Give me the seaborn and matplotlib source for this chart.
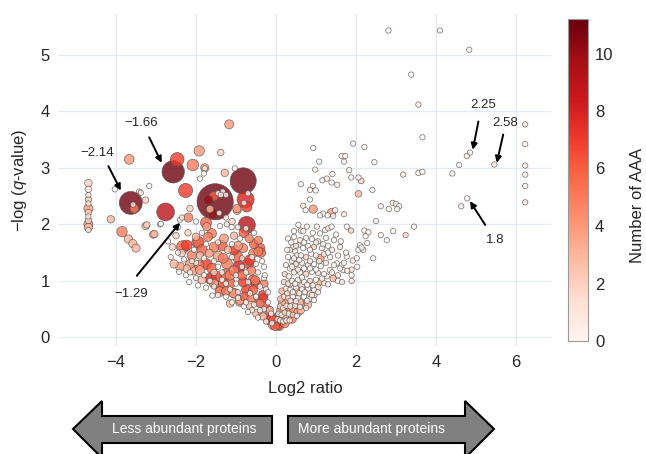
import matplotlib
matplotlib.use("Agg")
import matplotlib.pyplot as plt
from matplotlib.patches import Polygon
from matplotlib.colors import Normalize
from matplotlib.cm import ScalarMappable
import seaborn as sns
import pandas as pd

# (log2 ratio, -log q, number of AAA, peptide count)
left_column = [
    (-4.69, 2.73, 2, 2), (-4.69, 2.62, 1, 1.5), (-4.69, 2.52, 1, 1), (-4.69, 2.44, 2, 1.5),
    (-4.69, 2.37, 1, 1), (-4.69, 2.28, 4, 3), (-4.69, 2.21, 2, 1.5), (-4.69, 2.14, 1, 1),
    (-4.69, 2.07, 2, 1.5), (-4.69, 2.00, 4, 3), (-4.69, 1.95, 3, 2.5), (-4.69, 1.90, 1, 1),
]

left_big = [
    (-3.63, 2.38, 11, 20), (-2.57, 2.93, 11, 19), (-1.52, 2.40, 11, 50), (-0.82, 2.77, 11, 26),
    (-2.76, 2.22, 9, 12), (-0.73, 1.99, 9, 11), (-0.76, 2.44, 8, 11), (-2.26, 2.60, 7, 7.5),
    (-2.47, 3.15, 7, 7), (-2.08, 3.05, 5, 5), (-1.92, 3.30, 4, 4), (-1.78, 3.00, 4, 2.5),
    (-1.17, 3.77, 4, 3), (-3.67, 3.15, 4, 3.5), (-1.55, 2.50, 6, 3.5), (-3.54, 2.28, 5, 3),
    (-3.85, 1.87, 5, 4), (-3.69, 1.74, 3, 2.5), (-3.58, 1.66, 3, 2.5), (-3.50, 1.58, 3, 2.5),
    (-4.13, 2.09, 3, 2), (-3.26, 1.97, 3, 2), (-3.07, 1.82, 3, 2), (-1.28, 2.91, 3, 2),
    (-1.38, 3.27, 2, 1.5), (-2.33, 1.60, 6, 6), (-1.96, 1.68, 5, 5), (-2.19, 2.12, 5, 3),
    (-1.75, 2.03, 6, 4.5), (-1.61, 1.84, 5, 3.5), (-0.97, 2.25, 4, 2.5), (-0.40, 1.58, 6, 3.5),
]

left_scatter = [
    (-4.03, 2.62, 0, 1), (-3.42, 2.58, 1, 1), (-3.17, 2.68, 0, 1), (-3.26, 2.43, 2, 1.5),
    (-3.23, 1.99, 2, 1.5), (-3.04, 1.83, 3, 2), (-2.90, 2.00, 0, 1), (-3.38, 2.56, 1, 1),
    (-2.88, 2.01, 0, 1), (-2.59, 1.60, 2, 1.5), (-2.63, 1.42, 1, 1), (-2.42, 1.16, 0, 1),
    (-2.17, 0.98, 0, 1), (-1.59, 0.74, 0, 1), (-1.78, 2.99, 1, 1), (-1.80, 2.90, 0, 1),
    (-1.03, 2.99, 0, 1), (-1.90, 2.81, 0, 1), (-1.33, 2.58, 0, 1), (-1.25, 2.52, 0, 1),
    (-2.15, 2.28, 2, 1.5), (-1.69, 2.43, 10, 3), (-1.57, 2.19, 10, 3), (-0.98, 2.28, 4, 2.5),
    (-0.73, 2.31, 7, 4), (-1.40, 1.97, 0, 1), (-1.23, 2.00, 1, 1), (-1.11, 1.95, 0, 1),
    (-1.45, 2.55, 0, 1), (-1.38, 2.52, 0, 1), (-3.57, 2.35, 1, 1), (-0.80, 2.38, 0, 1),
    (-0.75, 1.93, 0, 1), (-0.70, 2.55, 0, 1), (-2.40, 2.08, 0, 1), (-2.35, 2.12, 1, 1),
    (-2.00, 2.05, 0, 1), (-1.65, 2.27, 3, 2), (-1.42, 2.20, 0, 1), (-1.25, 2.12, 1, 1),
    (-1.10, 2.05, 2, 1.5), (-0.95, 1.95, 0, 1), (-1.05, 1.80, 3, 2), (-1.30, 1.75, 4, 3),
    (-1.55, 1.60, 5, 3.5), (-1.20, 1.55, 3, 2), (-2.50, 1.80, 2, 1.5), (-2.70, 1.70, 0, 1),
    (-2.20, 1.85, 2, 1.5), (-2.45, 1.95, 0, 1), (-1.85, 1.85, 0, 1),
]

left_wedge = [
    (-2.40, 1.25, 4, 3), (-2.07, 1.19, 4, 3.5), (-1.93, 1.28, 5, 3.5), (-1.63, 1.04, 8, 5),
    (-1.38, 0.87, 5, 4), (-1.15, 0.96, 6, 4), (-0.93, 1.25, 8, 5.5), (-0.97, 1.43, 6, 4.5),
    (-1.23, 1.31, 5, 4.5), (-1.44, 1.43, 4, 4), (-1.67, 1.49, 4, 2.5), (-0.69, 1.31, 7, 4),
    (-0.57, 1.49, 5, 3), (-0.44, 1.72, 5, 2.5), (-0.67, 1.75, 5, 2.5), (-0.82, 1.58, 5, 3),
    (-0.38, 1.50, 6, 3.5), (-0.57, 1.01, 6, 4), (-0.73, 0.84, 7, 4), (-1.03, 0.78, 6, 3.5),
    (-0.32, 0.75, 7, 3.5), (-0.44, 0.63, 6, 3), (-0.15, 0.48, 3, 2), (-0.19, 0.31, 5, 3),
    (0.02, 0.25, 6, 3), (-0.08, 0.22, 5, 3), (0.14, 0.28, 6, 3), (-0.32, 0.37, 3, 2),
    (-0.48, 0.42, 3, 2.5), (-0.65, 0.57, 3, 2.5), (-0.90, 0.63, 4, 3), (-1.15, 0.60, 3, 2),
    (-1.90, 1.19, 4, 3), (-2.23, 1.22, 3, 2), (-2.36, 1.49, 2, 2), (-2.00, 1.78, 3, 2),
    (-1.73, 1.96, 4, 2.5), (-1.94, 1.69, 6, 4.5), (-2.23, 1.63, 7, 4), (-1.32, 1.40, 5, 3.5),
    (-0.65, 1.37, 7, 4), (-0.44, 1.52, 5, 3), (-1.15, 1.10, 5, 3.5), (-1.32, 0.96, 6, 4),
    (-0.82, 0.98, 7, 3.5), (-0.57, 0.84, 6, 3), (-0.32, 0.69, 7, 3), (-0.40, 0.60, 5, 2.5),
    (-0.19, 0.48, 6, 3), (-0.07, 0.31, 6, 2.5), (-0.52, 1.01, 5, 3), (-1.07, 0.78, 4, 3),
    (-1.40, 0.81, 5, 3.5), (-0.90, 0.66, 4, 3),
    (-2.10, 1.45, 5, 3.5), (-1.85, 1.55, 6, 4), (-1.60, 1.22, 6, 4), (-1.75, 1.30, 7, 4.5),
    (-1.48, 1.08, 7, 4), (-1.25, 1.12, 6, 4), (-1.05, 1.18, 5, 3.5), (-0.85, 1.10, 6, 3.5),
    (-0.62, 1.18, 5, 3), (-0.50, 0.95, 7, 3.5), (-0.78, 0.72, 6, 3), (-0.62, 0.68, 5, 3),
    (-0.28, 0.55, 6, 3), (-0.10, 0.35, 7, 3), (0.08, 0.20, 6, 3), (-0.35, 0.45, 4, 2.5),
    (-1.25, 0.82, 5, 3), (-1.55, 0.95, 4, 3), (-1.85, 1.02, 3, 2.5), (-2.15, 1.30, 4, 3),
    (-1.70, 1.78, 5, 3), (-1.35, 1.62, 6, 4), (-1.05, 1.55, 7, 4), (-0.80, 1.85, 6, 3.5),
    (-0.55, 1.65, 6, 3), (-0.30, 0.95, 5, 2.5), (-0.95, 1.62, 4, 3), (-2.55, 1.30, 3, 2.5),
    (-2.00, 1.32, 1, 1), (-1.90, 1.45, 3, 2),
    (-2.30, 1.38, 0, 1), (-2.10, 1.35, 1, 1), (-1.80, 1.40, 0, 1), (-1.55, 1.35, 1, 1),
    (-1.10, 1.42, 0, 1), (-0.85, 1.40, 2, 1), (-0.50, 1.30, 0, 1), (-0.30, 1.25, 0, 1),
    (-2.25, 1.10, 0, 1), (-2.00, 1.05, 1, 1), (-1.80, 1.10, 0, 1), (-1.55, 1.15, 2, 1.5),
    (-1.35, 1.15, 0, 1), (-1.00, 1.10, 1, 1), (-0.75, 1.15, 0, 1), (-0.45, 1.15, 1, 1),
    (-0.30, 1.05, 0, 1), (-1.95, 0.92, 0, 1), (-1.75, 0.88, 0, 1), (-1.55, 0.90, 1, 1),
    (-1.25, 0.95, 0, 1), (-1.00, 0.95, 0, 1), (-0.70, 0.98, 1, 1), (-0.40, 0.90, 0, 1),
    (-0.25, 0.85, 0, 1), (-1.45, 0.75, 0, 1), (-1.25, 0.72, 0, 1), (-0.95, 0.80, 1, 1),
    (-0.65, 0.78, 0, 1), (-0.50, 0.72, 0, 1), (-0.20, 0.62, 0, 1), (-1.10, 0.62, 0, 1),
    (-0.80, 0.55, 0, 1), (-0.60, 0.48, 1, 1), (-0.30, 0.50, 0, 1), (-0.12, 0.42, 0, 1),
    (-0.70, 0.45, 0, 1), (-0.45, 0.35, 0, 1), (-0.25, 0.28, 1, 1), (-0.10, 0.25, 0, 1),
    (-2.45, 1.50, 0, 1), (-2.05, 1.55, 0, 1), (-1.75, 1.65, 0, 1), (-1.45, 1.68, 1, 1),
    (-1.10, 1.65, 0, 1), (-0.90, 1.75, 0, 1), (-0.55, 1.85, 0, 1), (-0.35, 1.35, 0, 1),
    (-0.28, 1.10, 0, 1), (-0.20, 0.80, 0, 1),
    (-1.65, 1.00, 0, 1), (-1.35, 1.02, 0, 1), (-1.15, 0.85, 0, 1), (-0.95, 0.70, 0, 1),
    (-0.75, 0.62, 0, 1), (-0.55, 0.58, 0, 1), (-0.40, 0.48, 0, 1), (-0.85, 1.25, 0, 1),
    (-0.60, 1.42, 0, 1), (-1.45, 1.25, 0, 1), (-2.15, 1.15, 0, 1),
]

right_sparse = [
    (2.81, 5.43, 0, 1), (4.10, 5.43, 0, 1), (4.83, 5.09, 0, 1), (3.38, 4.65, 0, 1),
    (3.56, 4.12, 1, 1), (3.66, 3.54, 0, 1), (2.21, 3.37, 0, 1), (2.46, 3.10, 0, 1),
    (3.18, 2.88, 1, 1), (3.56, 2.91, 0, 1), (3.66, 2.93, 0, 1), (2.41, 2.61, 0, 1),
    (2.62, 2.32, 0, 1), (2.82, 2.27, 0, 1), (2.92, 2.38, 1, 1), (3.00, 2.36, 0, 1),
    (3.08, 2.32, 0, 1), (3.03, 2.27, 0, 1), (2.50, 2.06, 0, 1), (3.45, 1.96, 0, 1),
    (2.21, 1.89, 0, 1), (2.31, 1.86, 0, 1), (2.24, 1.79, 0, 1), (2.62, 1.81, 0, 1),
    (2.77, 1.72, 0, 1), (2.93, 1.88, 0, 1), (3.24, 1.81, 2, 1), (2.28, 1.67, 0, 1),
    (2.18, 1.55, 1, 1), (2.43, 1.40, 0, 1), (4.85, 3.27, 0, 1), (4.77, 3.21, 1, 1),
    (4.58, 3.05, 0, 1), (4.41, 2.90, 0, 1), (5.46, 3.06, 1, 1), (4.78, 2.46, 0, 1),
    (4.63, 2.32, 0, 1), (6.23, 3.77, 1, 1), (6.23, 3.42, 0, 1), (6.23, 3.04, 1, 1),
    (6.23, 2.88, 0, 1), (6.23, 2.68, 0, 1), (6.23, 2.39, 1, 1),
    (0.93, 3.35, 0, 1), (1.08, 3.11, 0, 1), (0.98, 2.97, 0, 1), (1.93, 3.43, 0, 1),
    (1.64, 3.21, 0, 1), (1.73, 3.21, 0, 1), (1.70, 3.11, 0, 1), (1.16, 2.78, 0, 1),
    (1.27, 2.81, 1, 1), (1.41, 2.89, 0, 1), (1.39, 2.74, 0, 1), (1.53, 2.70, 1, 1),
    (1.83, 2.96, 0, 1), (1.88, 2.83, 0, 1), (2.06, 2.83, 0, 1), (2.13, 2.77, 2, 1.2),
    (0.62, 2.71, 0, 1), (0.92, 2.68, 0, 1), (0.85, 2.61, 0, 1), (0.99, 2.60, 0, 1),
    (2.06, 2.54, 3, 1.5), (0.85, 2.44, 0, 1), (0.68, 2.33, 1, 1), (0.74, 2.25, 0, 1),
    (0.93, 2.27, 4, 2.5), (1.39, 2.21, 4, 2.5), (1.48, 2.25, 0, 1), (1.43, 2.15, 0, 1),
    (1.70, 2.18, 1, 1), (1.18, 2.19, 0, 1), (1.29, 2.16, 0, 1), (1.10, 2.16, 0, 1),
]

right_arm = [
    (0.56, 1.99, 0, 1), (0.62, 1.89, 1, 1), (0.68, 1.88, 0, 1), (0.77, 1.96, 0, 1),
    (1.02, 1.96, 0, 1), (1.10, 1.84, 0, 1), (1.23, 1.90, 1, 1), (1.31, 1.93, 0, 1),
    (1.39, 1.96, 0, 1), (1.77, 1.96, 0, 1), (1.88, 1.89, 2, 1), (0.43, 1.60, 0, 1),
    (0.48, 1.52, 1, 1), (0.56, 1.63, 0, 1), (0.68, 1.58, 0, 1), (1.10, 1.40, 4, 2.5),
    (2.10, 1.63, 0, 1), (2.06, 1.55, 0, 1), (2.14, 1.59, 0, 1), (1.77, 1.43, 0, 1),
    (1.92, 1.36, 1, 1), (2.02, 1.40, 0, 1), (2.03, 1.25, 0, 1), (1.89, 1.20, 1, 1),
    (1.89, 1.10, 0, 1), (1.64, 1.28, 0, 1), (1.68, 1.19, 1, 1), (1.52, 1.31, 0, 1),
    (1.35, 1.19, 0, 1), (1.43, 1.04, 3, 1.5), (1.27, 1.08, 0, 1), (1.89, 1.00, 1, 1),
    (1.10, 0.98, 3, 1.5),
    (0.30, 1.75, 0, 1), (0.45, 1.78, 0, 1), (0.60, 1.72, 1, 1), (0.75, 1.76, 0, 1),
    (0.90, 1.74, 0, 1), (1.05, 1.70, 1, 1), (1.25, 1.76, 0, 1), (1.45, 1.72, 0, 1),
    (0.35, 1.55, 1, 1), (0.52, 1.45, 0, 1), (0.80, 1.62, 0, 1), (0.95, 1.60, 2, 1),
    (1.15, 1.58, 0, 1), (1.30, 1.62, 0, 1), (1.60, 1.60, 1, 1),
    (0.30, 1.42, 0, 1), (0.40, 1.35, 1, 1), (0.62, 1.45, 0, 1), (0.75, 1.42, 2, 1),
    (0.88, 1.48, 0, 1), (1.00, 1.45, 0, 1), (1.20, 1.47, 1, 1), (1.35, 1.42, 0, 1),
    (1.55, 1.45, 0, 1), (1.75, 1.50, 0, 1),
    (0.25, 1.28, 1, 1), (0.35, 1.22, 0, 1), (0.50, 1.30, 2, 1), (0.65, 1.32, 0, 1),
    (0.80, 1.28, 1, 1), (0.95, 1.30, 0, 1), (1.12, 1.26, 0, 1), (1.25, 1.32, 1, 1),
    (1.45, 1.28, 0, 1), (1.60, 1.22, 0, 1),
    (0.22, 1.12, 2, 1), (0.32, 1.08, 0, 1), (0.45, 1.15, 1, 1), (0.60, 1.15, 0, 1),
    (0.75, 1.12, 2, 1.2), (0.90, 1.16, 0, 1), (1.05, 1.14, 1, 1), (1.20, 1.12, 0, 1),
    (1.40, 1.15, 0, 1), (1.55, 1.10, 1, 1),
    (0.20, 0.98, 2, 1), (0.30, 0.95, 1, 1), (0.40, 1.00, 0, 1), (0.55, 1.02, 1, 1),
    (0.70, 0.98, 0, 1), (0.85, 1.00, 2, 1), (1.00, 1.02, 0, 1), (1.20, 0.96, 1, 1),
    (1.30, 0.94, 0, 1),
    (0.15, 0.82, 3, 1.5), (0.25, 0.86, 1, 1), (0.35, 0.84, 0, 1), (0.50, 0.88, 1, 1),
    (0.65, 0.85, 0, 1), (0.80, 0.86, 1, 1), (0.95, 0.84, 0, 1), (1.05, 0.80, 1, 1),
    (0.12, 0.68, 3, 1.5), (0.20, 0.72, 1, 1), (0.30, 0.70, 2, 1), (0.42, 0.72, 0, 1),
    (0.55, 0.70, 1, 1), (0.70, 0.72, 0, 1), (0.85, 0.68, 1, 1), (0.95, 0.66, 0, 1),
    (0.10, 0.55, 2, 1), (0.18, 0.52, 0, 1), (0.26, 0.56, 1, 1), (0.36, 0.55, 0, 1),
    (0.48, 0.56, 1, 1), (0.60, 0.54, 0, 1), (0.75, 0.52, 1, 1),
    (0.06, 0.42, 1, 1), (0.14, 0.40, 0, 1), (0.22, 0.44, 1, 1), (0.32, 0.42, 0, 1),
    (0.42, 0.40, 2, 1), (0.52, 0.38, 0, 1),
    (0.04, 0.32, 1, 1), (0.10, 0.30, 0, 1), (0.18, 0.28, 1, 1), (0.26, 0.30, 0, 1),
    (0.34, 0.30, 1, 1),
    (0.08, 0.38, 5, 3), (0.18, 0.45, 6, 3), (0.30, 0.50, 5, 3), (0.45, 0.48, 4, 2.5),
    (0.25, 0.62, 4, 2.5), (0.40, 0.62, 3, 2), (0.60, 0.62, 3, 2), (0.15, 0.60, 3, 2),
    (0.70, 0.58, 4, 2.5), (0.85, 0.78, 2, 1.5), (0.50, 0.80, 3, 2), (0.35, 0.95, 2, 1.5),
    (0.65, 0.92, 2, 1.5), (0.05, 0.22, 6, 3), (0.22, 0.25, 5, 3), (0.40, 0.33, 5, 3),
    (0.55, 0.45, 4, 2.5),
    (0.28, 1.55, 0, 1), (0.38, 1.68, 0, 1), (0.50, 1.62, 1, 1), (0.70, 1.68, 0, 1),
    (0.85, 1.55, 0, 1), (1.00, 1.68, 0, 1), (1.18, 1.65, 0, 1), (1.40, 1.55, 1, 1),
    (0.45, 1.40, 0, 1), (0.58, 1.37, 0, 1), (0.70, 1.22, 0, 1), (0.85, 1.35, 1, 1),
    (1.08, 1.35, 0, 1), (1.30, 1.50, 0, 1), (0.40, 1.25, 0, 1), (0.55, 1.20, 1, 1),
    (0.85, 1.22, 0, 1), (1.00, 1.20, 0, 1), (1.15, 1.04, 0, 1), (0.65, 1.06, 0, 1),
    (0.48, 0.95, 0, 1), (0.78, 0.93, 0, 1), (0.92, 0.92, 1, 1), (0.28, 0.78, 2, 1),
    (0.42, 0.80, 0, 1), (0.58, 0.78, 0, 1), (0.72, 0.80, 1, 1), (0.90, 0.75, 0, 1),
    (0.36, 0.65, 1, 1), (0.50, 0.64, 0, 1), (0.78, 0.65, 0, 1), (0.22, 0.36, 3, 2),
    (0.12, 0.48, 4, 2.5), (0.30, 0.38, 4, 2.5), (0.62, 0.48, 3, 2), (0.80, 0.58, 3, 2),
    (0.95, 0.75, 2, 1.5), (1.05, 0.88, 2, 1.5), (0.03, 0.28, 7, 3), (-0.02, 0.20, 6, 3),
    (0.45, 1.88, 0, 1), (0.92, 1.85, 0, 1), (1.50, 1.82, 0, 1), (1.62, 1.70, 0, 1),
    (1.70, 1.32, 0, 1), (1.78, 1.18, 1, 1), (1.55, 1.00, 0, 1), (1.65, 0.98, 1, 1),
]

# annotated values: (label, text pos, arrow start, arrow end)
callouts = [
    ("\u22122.14", (-4.47, 3.27), (-4.19, 3.03), (-3.88, 2.60)),
    ("\u22121.66", (-3.36, 3.80), (-3.17, 3.54), (-2.86, 3.09)),
    ("\u22121.29", (-3.61, 0.77), (-3.48, 1.09), (-2.40, 2.03)),
    ("2.25", (5.18, 4.12), (5.06, 3.82), (4.92, 3.32)),
    ("2.58", (5.74, 3.80), (5.68, 3.59), (5.52, 3.09)),
    ("1.8", (5.49, 1.72), (5.23, 1.99), (4.85, 2.41)),
]

rows = left_column + left_big + left_scatter + left_wedge + right_sparse + right_arm
df = pd.DataFrame(rows, columns=["log2", "nlogq", "aaa", "pep"])
# small markers drawn last so they sit on top of the big ones
df = df.sort_values("pep", ascending=False, kind="stable")

sns.set_style("white")
plt.rcParams["font.family"] = ["Liberation Sans", "DejaVu Sans"]
plt.rcParams["mathtext.fontset"] = "custom"
plt.rcParams["mathtext.rm"] = "Liberation Sans"
plt.rcParams["mathtext.it"] = "Liberation Sans:italic"

W, H = 646, 454
fig = plt.figure(figsize=(W / 100, H / 100), dpi=100)
ax = fig.add_axes([58 / W, 1 - 347 / H, 494 / W, 334 / H])

hue_norm = (0, 11.2)
sns.scatterplot(
    data=df, x="log2", y="nlogq", hue="aaa", size="pep",
    palette="Reds", hue_norm=hue_norm, sizes=(15, 680), size_norm=(1, 50),
    alpha=0.8, edgecolor="#4d4d4d", linewidth=0.5, legend=False, ax=ax,
)

ax.set_xlim(-5.45, 6.9)
ax.set_ylim(-0.17, 5.74)
ax.set_xticks([-4, -2, 0, 2, 4, 6])
ax.set_yticks([0, 1, 2, 3, 4, 5])
ax.grid(True, color="#e6ebf3", lw=0.9)
ax.set_axisbelow(True)
for s in ax.spines.values():
    s.set_visible(False)
ax.tick_params(length=0, labelsize=12, pad=6)
ax.set_xlabel("Log2 ratio", fontsize=12, labelpad=8)
ax.set_ylabel("\u2212log ($q$-value)", fontsize=12, labelpad=8)

for label, tpos, a0, a1 in callouts:
    ax.annotate("", xy=a1, xytext=a0,
                arrowprops=dict(arrowstyle="-|>", color="black", lw=1.4,
                                mutation_scale=9, shrinkA=0, shrinkB=0))
    ax.text(tpos[0], tpos[1], label, fontsize=9.5, ha="center", va="center")

# colorbar
cax = fig.add_axes([568 / W, 1 - 341 / H, 20 / W, 322 / H])
sm = ScalarMappable(norm=Normalize(*hue_norm), cmap="Reds")
cb = fig.colorbar(sm, cax=cax)
cb.set_ticks([0, 2, 4, 6, 8, 10])
cb.outline.set_edgecolor("#9a9a9a")
cb.outline.set_linewidth(0.8)
cax.tick_params(length=0, labelsize=12, pad=5)
fig.text(637 / W, 1 - 205 / H, "Number of AAA", rotation=90,
         ha="center", va="center", fontsize=12)


# direction arrows under the x axis (pixel positions converted to figure fraction)
def px(x, y):
    return (x / W, 1 - y / H)


left_arrow = [px(73, 429), px(102, 401), px(102, 416), px(272, 416),
              px(272, 443), px(102, 443), px(102, 458)]
right_arrow = [px(288, 416), px(465, 416), px(465, 401), px(494, 429),
               px(465, 458), px(465, 443), px(288, 443)]
for pts in (left_arrow, right_arrow):
    fig.patches.append(Polygon(pts, closed=True, transform=fig.transFigure,
                               facecolor="#808080", edgecolor="black", lw=1.5,
                               joinstyle="miter", figure=fig))
fig.text(*px(184, 429.5), "Less abundant proteins", color="white",
         fontsize=10, ha="center", va="center")
fig.text(*px(372, 429.5), "More abundant proteins", color="white",
         fontsize=10, ha="center", va="center")

fig.savefig("out.png", dpi=100)
